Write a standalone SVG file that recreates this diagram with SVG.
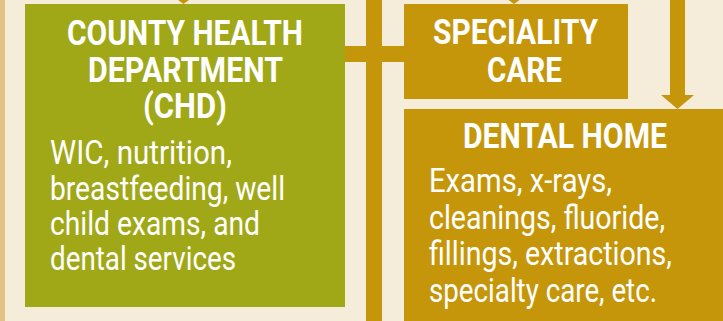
<svg xmlns="http://www.w3.org/2000/svg" width="723" height="321" viewBox="0 0 723 321">
  <style>
    .title { font-family: Roboto, "Liberation Sans", sans-serif; font-weight: bold; font-size: 35px; fill: #ffffff; }
    .body { font-family: Roboto, "Liberation Sans", sans-serif; font-weight: normal; font-size: 33px; fill: #ffffff; }
    .gold { fill: #C5960A; }
    .green { fill: #A0A818; }
  </style>
  <rect x="0" y="0" width="723" height="321" fill="#F6ECDA"/>
  <rect x="0" y="0" width="5" height="321" fill="#E3C384"/>

  <g id="connectors">
    <rect class="gold" x="345" y="46" width="59" height="16"/>
    <rect class="gold" x="366" y="0" width="16" height="321"/>
    <rect class="gold" x="670" y="0" width="15" height="96"/>
    <polygon class="gold" points="661,95 694,95 677.5,109"/>
    <polygon class="gold" points="178,0 189,0 183.5,4"/>
    <polygon class="gold" points="508.5,0 519.5,0 514,4"/>
  </g>

  <g id="chd">
    <rect class="green" x="25" y="4" width="320" height="303"/>
    <text class="title" x="67" y="45" textLength="236" lengthAdjust="spacingAndGlyphs">COUNTY HEALTH</text>
    <text class="title" x="88" y="82" textLength="195" lengthAdjust="spacingAndGlyphs">DEPARTMENT</text>
    <text class="title" x="143" y="118" textLength="84" lengthAdjust="spacingAndGlyphs">(CHD)</text>
    <text class="body" x="50" y="163.5" textLength="182" lengthAdjust="spacingAndGlyphs">WIC, nutrition,</text>
    <text class="body" x="50" y="200" textLength="235" lengthAdjust="spacingAndGlyphs">breastfeeding, well</text>
    <text class="body" x="50" y="235" textLength="210" lengthAdjust="spacingAndGlyphs">child exams, and</text>
    <text class="body" x="50" y="270" textLength="186" lengthAdjust="spacingAndGlyphs">dental services</text>
  </g>

  <g id="speciality-care">
    <rect class="gold" x="404" y="4" width="224" height="95"/>
    <text class="title" x="433" y="44" textLength="165" lengthAdjust="spacingAndGlyphs">SPECIALITY</text>
    <text class="title" x="487" y="82" textLength="75" lengthAdjust="spacingAndGlyphs">CARE</text>
  </g>

  <g id="dental-home">
    <rect class="gold" x="404" y="109" width="319" height="212"/>
    <text class="title" x="463" y="148" textLength="204" lengthAdjust="spacingAndGlyphs">DENTAL HOME</text>
    <text class="body" x="429" y="192" textLength="183" lengthAdjust="spacingAndGlyphs">Exams, x-rays,</text>
    <text class="body" x="429" y="228.5" textLength="236" lengthAdjust="spacingAndGlyphs">cleanings, fluoride,</text>
    <text class="body" x="429" y="265" textLength="243" lengthAdjust="spacingAndGlyphs">fillings, extractions,</text>
    <text class="body" x="429" y="301.5" textLength="228" lengthAdjust="spacingAndGlyphs">specialty care, etc.</text>
  </g>
</svg>
